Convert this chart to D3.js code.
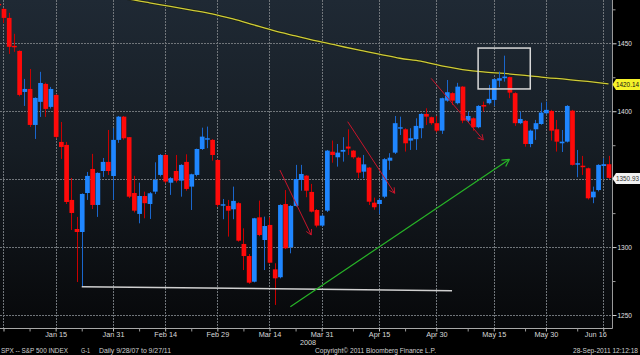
<!DOCTYPE html>
<html><head><meta charset="utf-8">
<script src="https://cdn.jsdelivr.net/npm/d3@7"></script>
<style>
html,body{margin:0;padding:0;background:#000;overflow:hidden;}
svg{display:block;}
text{font-family:"Liberation Sans",Arial,sans-serif;}
</style></head><body>
<svg id="c" width="640" height="355"></svg>
<script>
// ---------- DATA (S&P 500 daily) ----------
const dates = ["12/28","12/31",
"1/2","1/3","1/4","1/7","1/8","1/9","1/10","1/11","1/14","1/15","1/16","1/17","1/18","1/22","1/23","1/24","1/25","1/28","1/29","1/30","1/31",
"2/1","2/4","2/5","2/6","2/7","2/8","2/11","2/12","2/13","2/14","2/15","2/19","2/20","2/21","2/22","2/25","2/26","2/27","2/28","2/29",
"3/3","3/4","3/5","3/6","3/7","3/10","3/11","3/12","3/13","3/14","3/17","3/18","3/19","3/20","3/24","3/25","3/26","3/27","3/28","3/31",
"4/1","4/2","4/3","4/4","4/7","4/8","4/9","4/10","4/11","4/14","4/15","4/16","4/17","4/18","4/21","4/22","4/23","4/24","4/25","4/28","4/29","4/30",
"5/1","5/2","5/5","5/6","5/7","5/8","5/9","5/12","5/13","5/14","5/15","5/16","5/19","5/20","5/21","5/22","5/23","5/27","5/28","5/29","5/30",
"6/2","6/3","6/4","6/5","6/6","6/9","6/10","6/11","6/12","6/13","6/16","6/17"];

const open = [1479,1475.3,
1468.7,1448.1,1444.4,1414.2,1416.4,1389.9,1406.9,1420.1,1403.2,1412,1377.4,1375.2,1334.7,1313.3,1311.1,1339.8,1357.5,1331,1356,1362.7,1352.3,
1378.9,1396,1380.9,1339.8,1324.4,1337.6,1331.7,1340.8,1353.1,1367.8,1347.4,1356,1348.9,1362.7,1344.5,1353.1,1372.2,1379.4,1378.9,1364.1,
1331,1330.3,1327.8,1332.3,1302.3,1293.4,1274.5,1321.9,1305.2,1316.3,1283.6,1277.8,1331.7,1299.9,1330.3,1349.4,1352.6,1340.6,1327.3,1315.8,
1326.8,1370.2,1366.1,1370.2,1374,1371,1365.8,1355.5,1358.5,1332.7,1331.7,1337.1,1363.6,1369.5,1387.2,1386.7,1378.4,1379.4,1387.5,1398,1395.6,1391.2,
1385.7,1407.8,1413.3,1405.9,1418.1,1393.1,1394.8,1388.2,1404.6,1405.9,1408.3,1422.5,1424.3,1425.1,1413.3,1391.2,1392.9,1375.9,1386.7,1390.6,1398.5,
1400.2,1386.7,1376.4,1377.6,1400.4,1361,1359.9,1358,1336.6,1342,1359.7,1361];

const high = [1481,1476,
1472.4,1457,1444.8,1423.8,1431.1,1410.2,1429,1421,1417.9,1412.5,1392.1,1377.4,1350.9,1322.2,1339.5,1355.3,1368.6,1355,1365.6,1386.2,1387.7,
1396.5,1396.5,1381,1352.4,1347.4,1340.8,1340.5,1362.4,1368.5,1368.5,1351.5,1367.8,1361,1368.3,1354,1372.5,1387.9,1388.7,1379.5,1364.5,
1335.4,1334.7,1344.5,1333,1313.8,1294.9,1321.5,1334.2,1322.4,1321.9,1288.1,1331.5,1342,1330.8,1360.5,1360.5,1353,1346.5,1328,1324,
1371.5,1378.4,1375.9,1380.9,1386.7,1371.5,1366.5,1367.8,1359,1336.4,1336,1365.5,1369.1,1396.5,1396,1387.5,1387.5,1394.8,1398.5,1402.2,1396,1396.5,
1410,1423,1414,1420.9,1418.5,1399.5,1395.5,1404.5,1407.1,1419.4,1424,1429.2,1440.9,1425.5,1414,1399.7,1393.5,1386.5,1393.6,1406.3,1407.1,
1401,1393.6,1386.2,1404.5,1401,1371.5,1367.1,1358.5,1344.5,1361,1365.4,1367.1];

const low = [1474,1465,
1442.2,1443.7,1411,1403.9,1388.4,1379.6,1395.8,1395.8,1402,1380,1364.9,1331.7,1312.6,1274.3,1270.6,1334.7,1328,1322.2,1351.6,1353.1,1334.7,
1376.7,1379,1336,1325.5,1317.5,1321.2,1320.7,1339,1352,1347,1338.4,1347.5,1337.1,1341.5,1327.3,1352,1371.5,1372.8,1363.6,1329.7,
1320.5,1307.7,1320.5,1304,1283.1,1273,1274,1308,1283.1,1288,1257.4,1277,1298.5,1295.4,1329.8,1341.5,1336.7,1325.5,1314.5,1315,
1325.8,1362.1,1359.2,1362.9,1367.8,1365,1350.7,1350.7,1331,1327.5,1324.4,1336,1356.8,1368.5,1382.5,1370.3,1371.5,1371.5,1380.1,1389.9,1390,1384.5,
1383.3,1407,1404.6,1405,1391.2,1391.4,1385.7,1387.5,1399.7,1405,1403.9,1417.7,1421.8,1409.6,1389.2,1390.5,1373.9,1373.5,1378.9,1390,1398,
1378.4,1370.3,1370,1377,1360,1351.4,1353.1,1335,1332.3,1341,1350,1350];

const close = [1478,1468.7,
1447.4,1447.4,1412,1416.4,1389.9,1409.8,1420.8,1401.7,1416.4,1381.1,1373.7,1333.2,1325.1,1311.1,1339.1,1352.4,1331,1354.6,1362.7,1356,1378.9,
1396,1380.1,1337.1,1326.8,1337.6,1332.3,1339.6,1349.4,1367.8,1348.2,1350.7,1348.9,1360.5,1342.8,1353.6,1372.2,1381.3,1380.1,1367.8,1331,
1331.5,1326.8,1334,1304.7,1293.4,1273.8,1321.2,1308.9,1315.5,1288.5,1277,1331,1299.1,1330.3,1350.1,1353.8,1341.5,1326.1,1315.8,1323.1,
1371,1367.8,1369.5,1371.5,1372.5,1366.1,1354.8,1360.9,1333.4,1329.3,1334.7,1364.7,1365.8,1391.2,1388.2,1376.4,1380.1,1389.2,1398,1396,1391.2,1385.7,
1409.6,1414,1407.8,1418.1,1393.1,1396.5,1388.2,1403.9,1403.4,1409.1,1423.6,1424.3,1425.5,1413.7,1391.2,1394.3,1375.9,1385.7,1391.2,1399,1401,
1385.7,1377.6,1377.6,1403.9,1360.5,1361.7,1358.8,1335.9,1340.8,1360.5,1361,1350.93];

// 200-day moving average (yellow line), read at every 4th session
const maDates = ["1/24","1/30","2/5","2/11","2/15","2/22","2/28","3/5","3/11","3/17","3/24","3/28","4/3","4/9","4/15","4/21","4/25","5/1","5/7","5/13","5/19","5/23","5/30","6/5","6/11","6/17"];
const maVals  = [1490,1486,1482.6,1479.8,1477.2,1474.5,1471.7,1467.9,1463.5,1459.1,1455.4,1451.7,1448.4,1445.1,1442.1,1439,1436.8,1433.3,1430.7,1428.9,1427.8,1426.4,1424.8,1423.5,1421.9,1420.14];

const xTickDates  = ["12/31","1/15","1/31","2/14","2/29","3/14","3/31","4/15","4/30","5/15","5/30","6/16"];
const xTickLabels = ["","Jan 15","Jan 31","Feb 14","Feb 29","Mar 14","Mar 31","Apr 15","Apr 30","May 15","May 30","Jun 16"];
const xMinorDates = ["1/8","1/23","2/7","2/22","3/7","3/24","4/8","4/22","5/8","5/23","6/9"];
const yGrid = [1250,1300,1350,1400,1450];
const yLabelTicks = [1250,1300,1400,1450];
const yMinorTicks = [1275,1325,1350,1375,1425,1475];

const lastClose = 1350.93, lastMA = 1420.14;

// annotations (date, value)
const boxAnno = {d1:"5/12", d2:"5/27", v1:1416.4, v2:1446.5};
const supportLine = {d1:"1/23", v1:1270.8, d2:"5/5", v2:1267.9};
const greenArrow = {d1:"3/20", v1:1256.1, d2:"5/20", v2:1364.6};
const redArrows = [
  {d1:"3/18", v1:1356.7, d2:"3/27", v2:1308.9},
  {d1:"4/7",  v1:1392.3, d2:"4/18", v2:1339.6},
  {d1:"4/29", v1:1424.2, d2:"5/13", v2:1378.8}
];

// ---------- DRAW ----------
const W = 640, H = 355, plotR = 612, plotB = 328;
const svg = d3.select("#c");
const x = d3.scalePoint().domain(dates).range([-1.72, 608.5]);
const y = d3.scaleLinear().domain([1250,1450]).range([315,43.3]);

const defs = svg.append("defs");
const grad = defs.append("linearGradient").attr("id","bg").attr("x1",0).attr("y1",0).attr("x2",0).attr("y2",1);
grad.append("stop").attr("offset","0%").attr("stop-color","#1f2934");
grad.append("stop").attr("offset","45%").attr("stop-color","#161d24");
grad.append("stop").attr("offset","100%").attr("stop-color","#07080a");
defs.append("clipPath").attr("id","clip").append("rect").attr("width",plotR).attr("height",plotB);

svg.append("rect").attr("width",W).attr("height",H).attr("fill","#000");
svg.append("rect").attr("width",plotR).attr("height",plotB).attr("fill","url(#bg)");

const g = svg.append("g").attr("clip-path","url(#clip)");

// grid
g.selectAll("line.hg").data(yGrid).join("line").attr("class","hg")
  .attr("x1",0).attr("x2",plotR)
  .attr("y1",d=>Math.round(y(d))+0.5).attr("y2",d=>Math.round(y(d))+0.5)
  .attr("stroke","#70757a").attr("stroke-dasharray","2,1").attr("stroke-width",1);
g.selectAll("line.vg").data(xTickDates).join("line").attr("class","vg")
  .attr("x1",d=>Math.round(x(d))+0.5).attr("x2",d=>Math.round(x(d))+0.5)
  .attr("y1",0).attr("y2",plotB)
  .attr("stroke","#70757a").attr("stroke-dasharray","2,1").attr("stroke-width",1);

// MA line
const maData = maDates.map((d,i)=>({d, v: maVals[i]}));
const maLine = d3.line().x(d=>x(d.d)).y(d=>y(d.v)).curve(d3.curveMonotoneX);
g.append("path").datum(maData).attr("d", maLine)
  .attr("fill","none").attr("stroke","#1a1f14").attr("stroke-width",2.6);
g.append("path").datum(maData).attr("d", maLine)
  .attr("fill","none").attr("stroke","#cfcc38").attr("stroke-width",1.3);

// candles
const candles = dates.map((d,i)=>({d, o:open[i], h:high[i], l:low[i], c:close[i], up: close[i]>=open[i]}));
const bw = 4.7;
g.selectAll("line.wick").data(candles).join("line").attr("class","wick")
  .attr("x1",d=>Math.round(x(d.d))+0.5).attr("x2",d=>Math.round(x(d.d))+0.5)
  .attr("y1",d=>y(d.h)).attr("y2",d=>y(d.l))
  .attr("stroke",d=>d.up?"#1a66cc":"#c80000").attr("stroke-width",1);
g.selectAll("rect.body").data(candles).join("rect").attr("class","body")
  .attr("x",d=>x(d.d)-bw/2+0.5).attr("width",bw)
  .attr("y",d=>y(Math.max(d.o,d.c)))
  .attr("height",d=>Math.max(1.4, y(Math.min(d.o,d.c))-y(Math.max(d.o,d.c))))
  .attr("fill",d=>d.up?"#1f86ff":"#ff0a0a");

// annotations
const an = svg.append("g").attr("clip-path","url(#clip)");
an.append("rect")
  .attr("x",x(boxAnno.d1)).attr("y",y(boxAnno.v2))
  .attr("width",x(boxAnno.d2)-x(boxAnno.d1)).attr("height",y(boxAnno.v1)-y(boxAnno.v2))
  .attr("fill","none").attr("stroke","#d8d8d8").attr("stroke-width",1.5);
an.append("line")
  .attr("x1",x(supportLine.d1)).attr("y1",y(supportLine.v1))
  .attr("x2",x(supportLine.d2)).attr("y2",y(supportLine.v2))
  .attr("stroke","#d0d0d0").attr("stroke-width",1.5);

function arrow(a, color, w, len){
  const x1=x(a.d1), y1=y(a.v1), x2=x(a.d2), y2=y(a.v2);
  an.append("line").attr("x1",x1).attr("y1",y1).attr("x2",x2).attr("y2",y2)
    .attr("stroke",color).attr("stroke-width",w);
  const ang = Math.atan2(y2-y1, x2-x1);
  [-1,1].forEach(s=>{
    const aa = ang + Math.PI + s*0.5;
    an.append("line").attr("x1",x2).attr("y1",y2)
      .attr("x2",x2+len*Math.cos(aa)).attr("y2",y2+len*Math.sin(aa))
      .attr("stroke",color).attr("stroke-width",w);
  });
}
arrow(greenArrow, "#27b427", 1.2, 8);
redArrows.forEach(r=>arrow(r, "#c8142a", 1, 6));

// axis lines
svg.append("line").attr("x1",plotR+0.5).attr("x2",plotR+0.5).attr("y1",0).attr("y2",plotB+0.5)
  .attr("stroke","#9a9a9a").attr("stroke-width",1);
svg.append("line").attr("x1",0).attr("x2",plotR+0.5).attr("y1",plotB+0.5).attr("y2",plotB+0.5)
  .attr("stroke","#a8a8a8").attr("stroke-width",1);

// right axis
const yAxis = svg.append("g").attr("transform",`translate(${plotR+0.5},0)`)
  .call(d3.axisRight(y).tickValues(yLabelTicks).tickSize(4).tickPadding(1).tickFormat(d3.format("d")));
yAxis.select(".domain").remove();
yAxis.selectAll("line").attr("stroke","#cfcfcf");
yAxis.selectAll("text").attr("fill","#e0e0e0").attr("font-size","7px").attr("font-family",null)
  .attr("textLength",14.5).attr("lengthAdjust","spacingAndGlyphs");
const yMinor = svg.append("g").attr("transform",`translate(${plotR+0.5},0)`)
  .call(d3.axisRight(y).tickValues(yMinorTicks).tickSize(3).tickFormat(""));
yMinor.select(".domain").remove();
yMinor.selectAll("line").attr("stroke","#9a9a9a");

// bottom axis
const xAxis = svg.append("g").attr("transform",`translate(0,${plotB+0.5})`)
  .call(d3.axisBottom(x).tickValues(xTickDates).tickSize(3).tickPadding(0.5).tickFormat((d,i)=>xTickLabels[i]));
xAxis.select(".domain").remove();
xAxis.selectAll("line").attr("stroke","#bdbdbd");
xAxis.selectAll("text").attr("fill","#d8d8d8").attr("font-size","7.3px").attr("font-family",null);
xAxis.selectAll(".tick").filter(d=>d==="6/16").select("text").attr("text-anchor","end").attr("dx","3");
const xMinor = svg.append("g").attr("transform",`translate(0,${plotB+0.5})`)
  .call(d3.axisBottom(x).tickValues(xMinorDates).tickSize(3).tickFormat(""));
xMinor.select(".domain").remove();
xMinor.selectAll("line").attr("stroke","#9a9a9a");

svg.append("text").attr("x",308).attr("y",344.5).attr("text-anchor","middle")
  .attr("fill","#d8d8d8").attr("font-size","7.3px").text("2008");

// price tags
function tag(v, fill, txtColor, label){
  const yc = Math.round(y(v))+0.5;
  svg.append("path")
    .attr("d",`M${plotR+0.5},${yc} L${plotR+4},${yc-5.5} L${W},${yc-5.5} L${W},${yc+5.5} L${plotR+4},${yc+5.5} Z`)
    .attr("fill",fill);
  svg.append("text").attr("x",616).attr("y",yc+2.6).attr("fill",txtColor)
    .attr("font-size","7px").attr("textLength",23).attr("lengthAdjust","spacingAndGlyphs").text(label);
}
tag(lastMA, "#f6f22a", "#111", d3.format(".2f")(lastMA));
tag(lastClose, "#f2f2f2", "#333", d3.format(".2f")(lastClose));

// footer
const foot = [
  {t:"SPX -- S&P 500 INDEX", x:1, w:67},
  {t:"G-1", x:81, w:9},
  {t:"Daily  9/28/07 to 9/27/11", x:99, w:72},
  {t:"Copyright\u00a9 2011 Bloomberg Finance L.P.", x:315, w:121},
  {t:"28-Sep-2011 12:12:18", x:573, w:65}
];
svg.selectAll("text.foot").data(foot).join("text").attr("class","foot")
  .attr("x",d=>d.x).attr("y",353.3).attr("fill","#d0d0d0").attr("font-size","6.5px")
  .attr("textLength",d=>d.w).attr("lengthAdjust","spacingAndGlyphs").text(d=>d.t);
</script>
</body></html>
